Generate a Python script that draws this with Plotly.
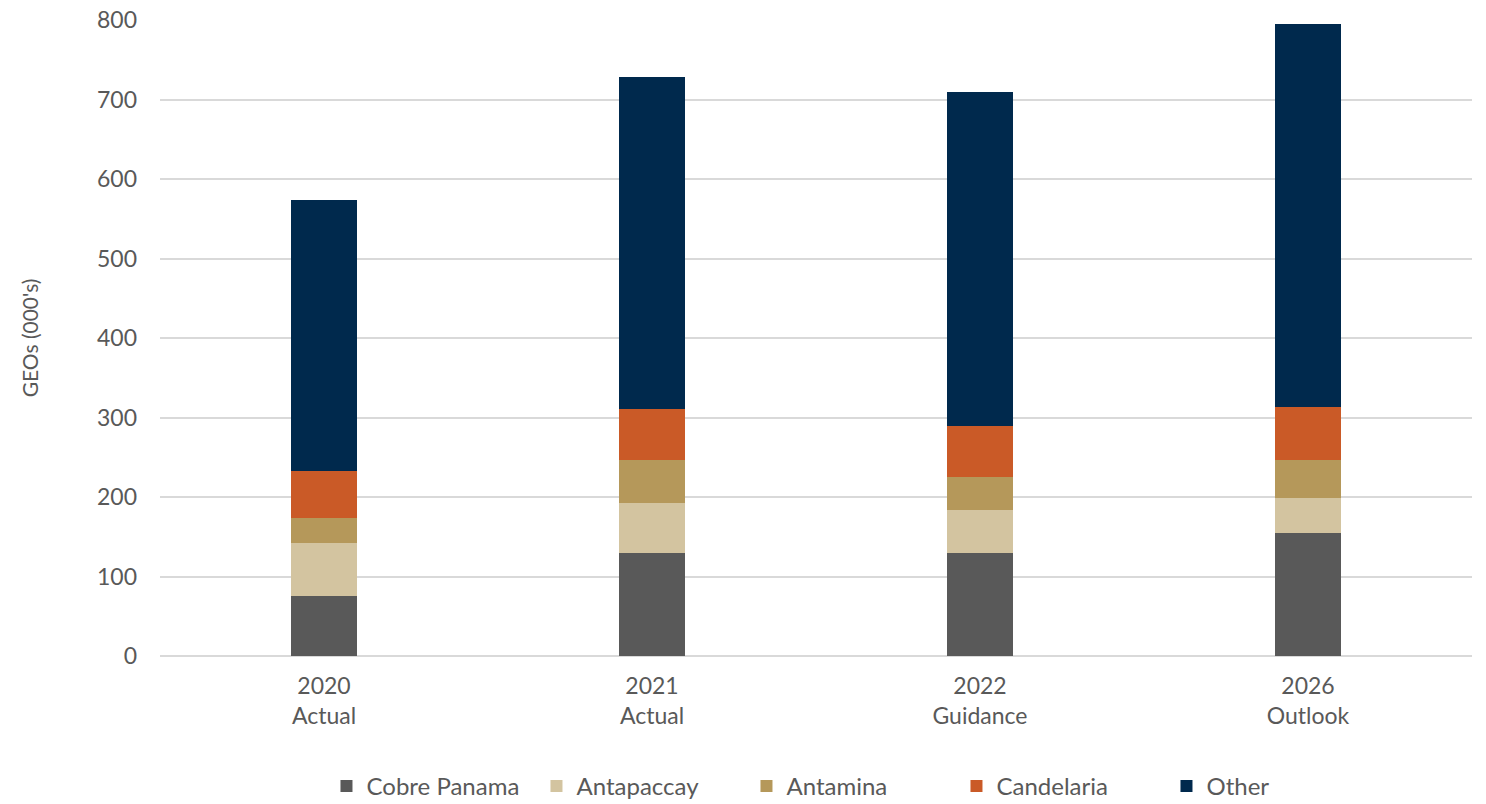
import plotly.graph_objects as go

categories = ["2020<br>Actual", "2021<br>Actual", "2022<br>Guidance", "2026<br>Outlook"]
cobre_panama = [76, 129, 130, 155]
antapaccay = [66, 63, 54, 44]
antamina = [32, 54, 41, 47]
candelaria = [59, 65, 64, 67]
other = [340, 417, 421, 482]

series = [
    ("Cobre Panama", cobre_panama, "#595959"),
    ("Antapaccay", antapaccay, "#D3C4A0"),
    ("Antamina", antamina, "#B5985A"),
    ("Candelaria", candelaria, "#CA5A27"),
    ("Other", other, "#00294D"),
]

fig = go.Figure()
for name, vals, color in series:
    fig.add_trace(go.Bar(name=name, x=categories, y=vals, marker=dict(color=color, line=dict(width=0))))

font_family = "Lato, 'Open Sans', sans-serif"
fig.update_layout(
    barmode="stack",
    bargap=0.8,
    width=1486,
    height=804,
    paper_bgcolor="white",
    plot_bgcolor="white",
    margin=dict(l=160, r=14, t=20, b=148, autoexpand=False),
    font=dict(family=font_family, color="#595959", size=22),
    legend=dict(
        orientation="h",
        x=0.573, xref="container", xanchor="center",
        y=0.022, yref="container", yanchor="middle",
        font=dict(size=24, color="#595959"),
        traceorder="normal",
        entrywidthmode="pixels",
        entrywidth=165,
    ),
    xaxis=dict(
        showgrid=False,
        showline=False,
        ticks="",
        ticklabelstandoff=14,
        tickfont=dict(size=23, color="#595959"),
    ),
    yaxis=dict(
        range=[0, 800],
        dtick=100,
        showgrid=True,
        gridcolor="#D9D9D9",
        gridwidth=1.5,
        zeroline=True,
        zerolinecolor="#D9D9D9",
        zerolinewidth=1.5,
        ticks="",
        ticklabelstandoff=22,
        tickfont=dict(size=23, color="#595959"),
        title=dict(text="GEOs (000's)", font=dict(size=21, color="#595959"), standoff=52),
    ),
)

fig.write_html("out.html")
